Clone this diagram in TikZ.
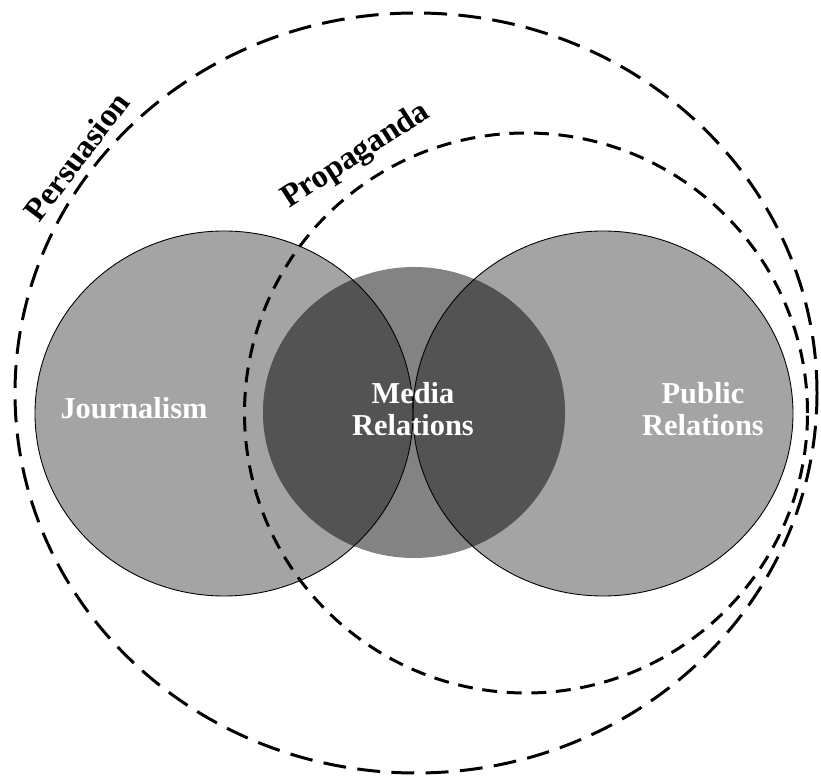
\documentclass[tikz,border=0pt]{standalone}
\usepackage{fontspec}
\setmainfont{Liberation Serif}
\definecolor{lightgrey}{HTML}{A4A4A4}
\definecolor{midgrey}{HTML}{838383}
\definecolor{darkgrey}{HTML}{535353}

\begin{document}
\begin{tikzpicture}[lbl/.style={font=\fontsize{18.5}{20}\selectfont\bfseries, inner sep=0pt, align=center},
                    inlbl/.style={font=\fontsize{17.3}{18.2}\selectfont\bfseries, inner sep=0pt, align=center, text=white},
                    outer/.style={line width=1.7pt, dash pattern=on 13pt off 6.5pt},
                    inner/.style={line width=1.7pt, dash pattern=on 8.5pt off 5.5pt}]
        \useasboundingbox (0,0) rectangle (16.42,15.56);

        % the three fields
        \fill[lightgrey] (4.48,7.29) ellipse [x radius=3.78, y radius=3.65];
        \fill[lightgrey] (12.06,7.29) ellipse [x radius=3.80, y radius=3.65];
        \fill[midgrey] (8.28,7.31) ellipse [x radius=3.02, y radius=2.91];

        % overlaps with media relations
        \begin{scope}
        \clip (4.48,7.29) ellipse [x radius=3.78, y radius=3.65];
        \fill[darkgrey] (8.28,7.31) ellipse [x radius=3.02, y radius=2.91];
        \end{scope}
        \begin{scope}
        \clip (12.06,7.29) ellipse [x radius=3.80, y radius=3.65];
        \fill[darkgrey] (8.28,7.31) ellipse [x radius=3.02, y radius=2.91];
        \end{scope}

        \draw[line width=0.5pt] (4.48,7.29) ellipse [x radius=3.78, y radius=3.65];
        \draw[line width=0.5pt] (12.06,7.29) ellipse [x radius=3.80, y radius=3.65];

        % dashed rings
        \draw[outer] (8.32,7.70) ellipse [x radius=8.02, y radius=7.60];
        \draw[inner] (10.52,7.30) ellipse [x radius=5.63, y radius=5.60];

        \node[inlbl, anchor=base] (jour) at (2.68,7.18) {Journalism};
        \node[inlbl] (media) at (8.26,7.38) {Media\\Relations};
        \node[inlbl] (pr) at (14.06,7.38) {Public\\Relations};

        \node[lbl, rotate=53] (pers) at (1.53,12.43) {Persuasion};
        \node[lbl, rotate=33] (prop) at (7.12,12.44) {Propaganda};
\end{tikzpicture}
\end{document}
